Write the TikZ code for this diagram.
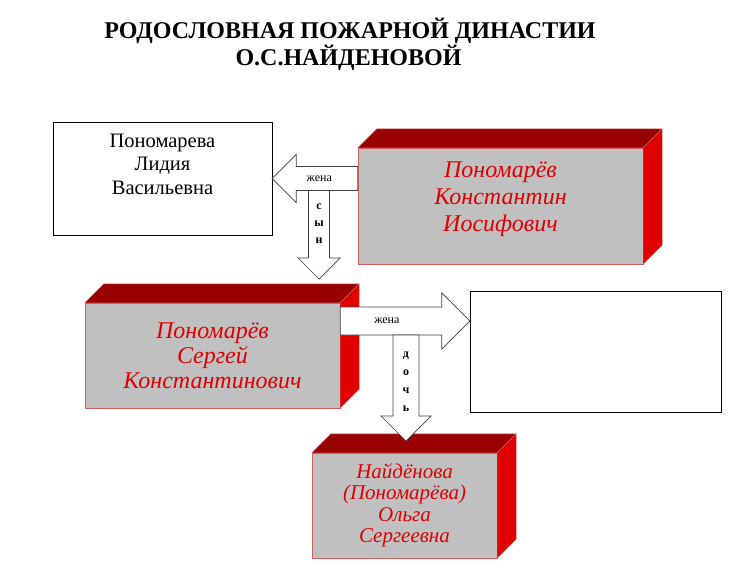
\documentclass[tikz,border=0pt]{standalone}
\usepackage{fontspec}
\setmainfont{Liberation Serif}
\usetikzlibrary{calc, positioning}

\definecolor{facegray}{HTML}{C0C0C0}
\definecolor{topred}{HTML}{990000}
\definecolor{sidered}{HTML}{E00000}
\definecolor{namered}{HTML}{E00000}
\definecolor{edgered}{HTML}{D06060}
\definecolor{arrowgray}{HTML}{404040}

\begin{document}
\begin{tikzpicture}[x=1pt, y=-1pt,
    heading/.style={font=\fontsize{24}{26}\selectfont\bfseries, inner sep=0pt},
    cube/.style={draw=edgered, fill=facegray, text=namered, align=center, inner sep=0pt, font=\fontsize{24}{25}\selectfont\itshape},
    plain/.style={draw, inner sep=0pt},
    word/.style={font=\fontsize{12}{17}\selectfont, inner sep=0pt},
    blockarrow/.style 2 args={draw=arrowgray, fill=white, line width=0.7pt,
        to path={($(\tikztostart)!#1!90:(\tikztotarget)$)
            -- ($(\tikztotarget)!#2!(\tikztostart)!#1!-90:(\tikztostart)$)
            -- ($(\tikztotarget)!#2!(\tikztostart)!#2!-90:(\tikztostart)$)
            -- (\tikztotarget)
            -- ($(\tikztotarget)!#2!(\tikztostart)!#2!90:(\tikztostart)$)
            -- ($(\tikztotarget)!#2!(\tikztostart)!#1!90:(\tikztostart)$)
            -- ($(\tikztostart)!#1!-90:(\tikztotarget)$) -- cycle}}]
    \useasboundingbox (0,0) rectangle (745,581);

    \node[heading, anchor=base] (title) at (350,38) {РОДОСЛОВНАЯ ПОЖАРНОЙ ДИНАСТИИ};
    \node[heading, anchor=base] (subtitle) at (348.5,65) {О.С.НАЙДЕНОВОЙ};

    \node[plain, minimum width=219, minimum height=113] (lidia) at (162.5,178.5) {};
    \node[below=12pt of lidia.north, align=center, inner sep=0pt, font=\fontsize{20.5}{23.5}\selectfont] (lidianame) {Пономарева\\Лидия\\Васильевна};
    \node[cube, minimum width=285, minimum height=116, font=\fontsize{24}{27}\selectfont\itshape] (konst) at (500.5,206) {Пономарёв\\Константин\\Иосифович\rule[-18pt]{0pt}{0pt}};
    \node[cube, minimum width=255, minimum height=105] (sergey) at (212.5,355.5) {Пономарёв\\Сергей\\Константинович};
    \node[plain, minimum width=251, minimum height=121] (wife) at (595.5,351.5) {};
    \node[cube, minimum width=185, minimum height=105, font=\fontsize{21}{21.5}\selectfont\itshape] (olga) at (404.5,505.5) {Найдёнова\\(Пономарёва)\\Ольга\\Сергеевна};

    \foreach \n in {konst, sergey, olga} {
        \draw[edgered, fill=topred] (\n.north west) -- ++(19,-19) -- ($(\n.north east)+(19,-19)$) -- (\n.north east) -- cycle;
        \draw[edgered, fill=sidered] (\n.north east) -- ++(19,-19) -- ($(\n.south east)+(19,-19)$) -- (\n.south east) -- cycle;
    }

    \coordinate (sontail) at (319,190.5);
    \coordinate (sontip) at (319,279);
    \coordinate (wifeline) at (400,321);
    \coordinate (daughtertail) at (406,335);
    \coordinate (daughtertip) at (406,441);

    \draw[blockarrow={12pt}{24pt}] (lidia.east -| konst.west) to (lidia.east);
    \draw[blockarrow={10.5pt}{21pt}] (sontail) to (sontip);
    \draw[blockarrow={14pt}{28pt}] (sergey.east |- wifeline) to (wife.west |- wifeline);
    \draw[blockarrow={13pt}{25pt}] (daughtertail) to (daughtertip);

    \path (lidia.east -| konst.west) -- node[word, pos=0.45] {жена} (lidia.east);
    \path (sontail) -- node[word, pos=0.38, align=center, font=\fontsize{12}{17}\selectfont\bfseries] {с\\ы\\н} (sontip);
    \path (sergey.east |- wifeline) -- node[word, pos=0.36] {жена} (wife.west |- wifeline);
    \path (daughtertail) -- node[word, pos=0.44, align=center, font=\fontsize{12}{18}\selectfont\bfseries] {д\\о\\ч\\ь} (daughtertip);
\end{tikzpicture}
\end{document}
